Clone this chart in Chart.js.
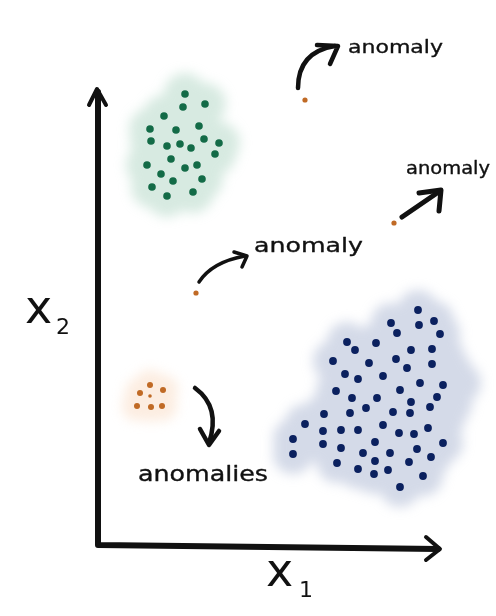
<!DOCTYPE html>
<html>
<head>
<meta charset="utf-8">
<script src="https://cdn.jsdelivr.net/npm/chart.js@4.4.1/dist/chart.umd.min.js"></script>
<style>
  html, body { margin: 0; padding: 0; background: #fff; }
  #wrap { width: 496px; height: 616px; }
</style>
</head>
<body>
<div id="wrap"><canvas id="chart"></canvas></div>
<script>
// cluster 1 (green, top left)
const greenX = [85, 83, 105, 64, 50, 76, 99, 51, 67, 80, 91, 104, 119, 115, 71, 47, 85, 97, 61, 73, 102, 52, 93, 67];
const greenY = [451, 438, 441, 429, 416, 415, 419, 404, 399, 401, 397, 406, 402, 391, 386, 380, 377, 380, 371, 364, 366, 358, 353, 349];

// cluster 2 (blue, bottom right)
const blueX = [318, 291, 319, 334, 297, 340, 247, 276, 255, 311, 332, 344, 233, 269, 296, 307, 332, 351, 245, 258, 283, 320, 343, 361,
  236, 300, 252, 277, 311, 337, 352, 266, 224, 250, 293, 310, 330, 205, 223, 241, 258, 283, 299, 314, 328, 345,
  193, 223, 241, 275, 317, 343, 193, 263, 290, 331, 237, 275, 309, 258, 288, 274, 323, 300];
const blueY = [235, 222, 220, 224, 212, 211, 203, 202, 195, 195, 196, 190, 184, 182, 186, 177, 181, 176, 171, 166, 169, 162, 160, 162,
  154, 155, 147, 147, 143, 148, 141, 137, 131, 132, 133, 132, 138, 121, 114, 115, 115, 120, 112, 111, 117, 126,
  106, 101, 97, 103, 96, 102, 91, 92, 92, 88, 82, 84, 83, 76, 75, 71, 69, 58];

// small orange group
const smallX = [50, 40, 63, 50, 37, 51, 62];
const smallY = [160, 152, 155, 149, 139, 138, 139];

// single anomalies
const anomX = [205, 294, 96];
const anomY = [445, 322, 252];

const pts = (xs, ys) => xs.map((x, i) => ({ x: x, y: ys[i] }));

const cloudPlugin = {
  id: 'clouds',
  beforeDatasetsDraw(chart) {
    const ctx = chart.ctx;
    chart.data.datasets.forEach((ds, i) => {
      if (!ds.cloud) return;
      const meta = chart.getDatasetMeta(i);
      ctx.save();
      ctx.filter = 'blur(6px)';
      ctx.fillStyle = ds.cloud;
      ctx.beginPath();
      meta.data.forEach(p => {
        ctx.moveTo(p.x + ds.cloudR, p.y);
        ctx.arc(p.x, p.y, ds.cloudR, 0, Math.PI * 2);
      });
      ctx.fill();
      ctx.restore();
    });
  }
};

function arrowHead(ctx, tip, a, b) {
  ctx.beginPath();
  ctx.moveTo(a[0], a[1]);
  ctx.lineTo(tip[0], tip[1]);
  ctx.lineTo(b[0], b[1]);
  ctx.stroke();
}

function label(ctx, txt, x, y, size, width) {
  ctx.font = size + 'px "DejaVu Sans"';
  const w = ctx.measureText(txt).width;
  ctx.save();
  ctx.translate(x, y);
  ctx.scale(width / w, 1);
  ctx.lineWidth = 0.35;
  ctx.fillText(txt, 0, 0);
  ctx.strokeText(txt, 0, 0);
  ctx.restore();
}

const sketchPlugin = {
  id: 'sketch',
  afterDraw(chart) {
    const ctx = chart.ctx;
    const a = chart.chartArea;
    ctx.save();
    ctx.strokeStyle = '#111';
    ctx.fillStyle = '#111';
    ctx.lineCap = 'round';
    ctx.lineJoin = 'round';

    // axes
    ctx.lineWidth = 6;
    ctx.beginPath();
    ctx.moveTo(a.left - 2, a.top);
    ctx.lineTo(a.left - 2, a.bottom);
    ctx.lineTo(a.right - 2, a.bottom + 4);
    ctx.stroke();
    ctx.lineWidth = 4;
    arrowHead(ctx, [a.left - 3, a.top - 3], [a.left - 11, a.top + 13], [a.left + 6, a.top + 13]);
    arrowHead(ctx, [a.right, a.bottom + 4], [a.right - 14, a.bottom - 8], [a.right - 14, a.bottom + 15]);

    // axis names
    ctx.textBaseline = 'alphabetic';
    ctx.font = '46px "DejaVu Sans"';
    ctx.fillText('x', 266, 586);
    ctx.font = '22px "DejaVu Sans"';
    ctx.fillText('1', 299, 597);
    ctx.font = '46px "DejaVu Sans"';
    ctx.fillText('x', 25, 323);
    ctx.font = '22px "DejaVu Sans"';
    ctx.fillText('2', 56, 334);

    // arrows from the anomalies
    const xs = chart.scales.x, ys = chart.scales.y;
    const p = anomX.map((x, i) => [xs.getPixelForValue(x), ys.getPixelForValue(anomY[i])]);

    ctx.lineWidth = 4.5;
    // top anomaly
    ctx.beginPath();
    ctx.moveTo(p[0][0] - 7, p[0][1] - 12);
    ctx.quadraticCurveTo(p[0][0] - 7, p[0][1] - 48, p[0][0] + 30, p[0][1] - 54);
    ctx.stroke();
    arrowHead(ctx, [p[0][0] + 33, p[0][1] - 54], [p[0][0] + 12, p[0][1] - 55], [p[0][0] + 25, p[0][1] - 36]);

    // right anomaly
    ctx.lineWidth = 5;
    ctx.beginPath();
    ctx.moveTo(p[1][0] + 8, p[1][1] - 6);
    ctx.lineTo(p[1][0] + 46, p[1][1] - 32);
    ctx.stroke();
    arrowHead(ctx, [p[1][0] + 47, p[1][1] - 33], [p[1][0] + 25, p[1][1] - 30], [p[1][0] + 45, p[1][1] - 12]);

    // middle anomaly
    ctx.lineWidth = 3.5;
    ctx.beginPath();
    ctx.moveTo(p[2][0] + 3, p[2][1] - 11);
    ctx.quadraticCurveTo(p[2][0] + 16, p[2][1] - 31, p[2][0] + 49, p[2][1] - 37);
    ctx.stroke();
    arrowHead(ctx, [p[2][0] + 51, p[2][1] - 37], [p[2][0] + 38, p[2][1] - 41], [p[2][0] + 46, p[2][1] - 26]);

    // small group
    const sx = xs.getPixelForValue(Math.max(...smallX));
    const sy = ys.getPixelForValue(smallY[0]);
    ctx.lineWidth = 4.5;
    ctx.beginPath();
    ctx.moveTo(sx + 32, sy + 3);
    ctx.quadraticCurveTo(sx + 58, sy + 22, sx + 46, sy + 58);
    ctx.stroke();
    arrowHead(ctx, [sx + 46, sy + 60], [sx + 37, sy + 44], [sx + 56, sy + 46]);

    // labels
    label(ctx, 'anomaly', 348, 53, 18, 95);
    label(ctx, 'anomaly', 406, 174, 17, 84);
    label(ctx, 'anomaly', 254, 252, 20, 109);
    label(ctx, 'anomalies', 138, 481, 21, 130);
    ctx.restore();
  }
};

new Chart(document.getElementById('chart'), {
  type: 'scatter',
  data: {
    datasets: [
      {
        data: pts(greenX, greenY),
        backgroundColor: '#136b47',
        borderWidth: 0,
        pointRadius: 3.8,
        cloud: 'rgba(150,200,175,0.38)',
        cloudR: 21,
      },
      {
        data: pts(blueX, blueY),
        backgroundColor: '#0b215f',
        borderWidth: 0,
        pointRadius: 3.9,
        cloud: 'rgba(160,172,205,0.45)',
        cloudR: 20,
      },
      {
        data: pts(smallX, smallY),
        backgroundColor: '#c06a25',
        borderWidth: 0,
        pointRadius: [3, 3, 3, 1.8, 3, 3, 3],
        cloud: 'rgba(248,210,180,0.4)',
        cloudR: 15,
      },
      {
        data: pts(anomX, anomY),
        backgroundColor: '#c06a25',
        borderWidth: 0,
        pointRadius: 2.6,
      },
    ],
  },
  options: {
    responsive: true,
    maintainAspectRatio: false,
    animation: false,
    clip: false,
    layout: {
      padding: { left: 100, right: 56, top: 92, bottom: 71 },
    },
    plugins: {
      legend: { display: false },
      tooltip: { enabled: false },
    },
    scales: {
      x: { display: false, min: 0, max: 340 },
      y: { display: false, min: 0, max: 453 },
    },
  },
  plugins: [cloudPlugin, sketchPlugin],
});
</script>
</body>
</html>
